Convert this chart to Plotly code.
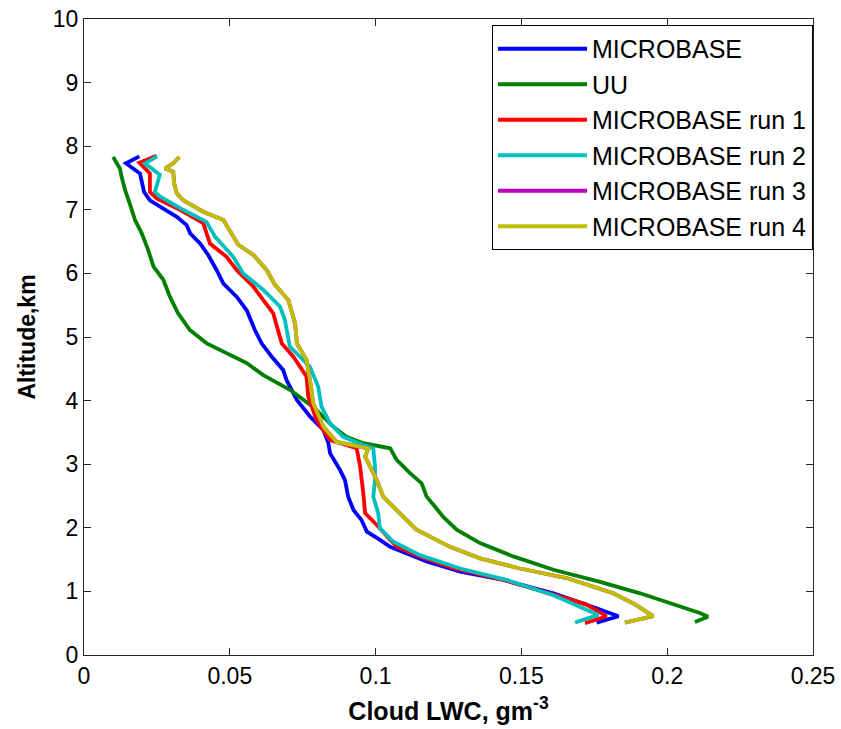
import plotly.graph_objects as go

# MICROBASE (blue)
mb_alt = [0.51, 0.61, 0.79, 0.97, 1.18, 1.31, 1.47, 1.60, 1.70, 1.81, 1.94, 2.12, 2.28, 2.49, 2.75, 2.91, 3.17, 3.33,
          3.54, 3.75, 4.01, 4.32, 4.48, 4.69, 4.90, 5.11, 5.42, 5.63, 5.84, 6.05, 6.29, 6.47, 6.63, 6.76, 6.89, 7.02,
          7.15, 7.28, 7.47, 7.57, 7.73, 7.84]
mb_lwc = [0.1758, 0.1833, 0.1724, 0.161, 0.1438, 0.129, 0.1175, 0.1107, 0.105, 0.1015, 0.097, 0.0952, 0.0924, 0.0906,
          0.0895, 0.0878, 0.0844, 0.0838, 0.0821, 0.0775, 0.073, 0.0695, 0.0683, 0.0644, 0.0609, 0.0586, 0.0558, 0.0524,
          0.0478, 0.0455, 0.0426, 0.0398, 0.0364, 0.0352, 0.0318, 0.0272, 0.0226, 0.0206, 0.0198, 0.0192, 0.0144, 0.019]

# UU (green)
uu_alt = [0.52, 0.60, 0.66, 0.97, 1.15, 1.34, 1.55, 1.76, 1.97, 2.17, 2.33, 2.49, 2.70, 2.86, 3.07, 3.25, 3.33, 3.43,
          3.59, 3.90, 4.17, 4.40, 4.59, 4.74, 4.90, 5.11, 5.37, 5.63, 5.90, 6.11, 6.37, 6.63, 6.84, 7.08, 7.31, 7.52,
          7.65, 7.83]
uu_lwc = [0.2095, 0.214, 0.2112, 0.1907, 0.177, 0.161, 0.1472, 0.1358, 0.1278, 0.1232, 0.1204, 0.1175, 0.1158, 0.1118,
          0.1072, 0.105, 0.0958, 0.090, 0.0855, 0.0786, 0.0706, 0.0615, 0.0558, 0.0489, 0.0421, 0.0363, 0.0323, 0.0295,
          0.0272, 0.0238, 0.022, 0.0198, 0.0175, 0.0158, 0.0141, 0.0129, 0.0123, 0.010]

# MICROBASE run 1 (red)
r1_alt = [0.50, 0.61, 0.80, 0.92, 1.18, 1.36, 1.57, 1.70, 1.81, 2.02, 2.23, 2.54, 2.75, 2.96, 3.25, 3.38, 3.69, 4.06,
          4.38, 4.69, 4.90, 5.11, 5.37, 5.58, 5.79, 6.05, 6.26, 6.47, 6.79, 7.00, 7.18, 7.28, 7.57, 7.74, 7.85]
r1_lwc = [0.1718, 0.1792, 0.172, 0.1632, 0.144, 0.127, 0.114, 0.1075, 0.105, 0.1009, 0.0964, 0.0958, 0.0952, 0.0947,
          0.0935, 0.0844, 0.0798, 0.0769, 0.0763, 0.0718, 0.0678, 0.0666, 0.0649, 0.0615, 0.0581, 0.0524, 0.0489,
          0.0432, 0.0409, 0.0329, 0.0249, 0.0226, 0.0226, 0.019, 0.0249]

# MICROBASE run 2 (cyan)
r2_alt = [0.51, 0.63, 0.94, 1.18, 1.36, 1.57, 1.78, 1.99, 2.23, 2.49, 2.75, 2.96, 3.25, 3.30, 3.43, 3.64, 3.90, 4.22,
          4.53, 4.85, 5.11, 5.27, 5.48, 5.74, 6.00, 6.26, 6.58, 6.81, 7.00, 7.21, 7.28, 7.55, 7.73, 7.84]
r2_lwc = [0.1684, 0.1764, 0.161, 0.1449, 0.129, 0.1152, 0.1061, 0.1015, 0.1009, 0.0992, 0.0998, 0.0998, 0.0992, 0.0958,
          0.0889, 0.0844, 0.0815, 0.0803, 0.0775, 0.0706, 0.0695, 0.0689, 0.0672, 0.0615, 0.0546, 0.0512, 0.0449,
          0.042, 0.034, 0.026, 0.0243, 0.026, 0.0209, 0.0251]

# MICROBASE run 3 (magenta) - coincides with run 4, hidden beneath it
r3_alt = [0.51, 0.61, 0.81, 0.97, 1.21, 1.36, 1.52, 1.70, 1.97, 2.23, 2.49, 2.75, 2.86, 3.12, 3.25, 3.35, 3.59, 3.96,
          4.32, 4.64, 4.90, 5.21, 5.58, 5.82, 6.05, 6.29, 6.45, 6.68, 6.84, 6.97, 7.15, 7.26, 7.42, 7.60, 7.65, 7.73,
          7.83]
r3_lwc = [0.1855, 0.1952, 0.1884, 0.1815, 0.1655, 0.1495, 0.1358, 0.1255, 0.114, 0.1084, 0.1026, 0.1004, 0.0992,
          0.0964, 0.0975, 0.0866, 0.0821, 0.0786, 0.0775, 0.0763, 0.073, 0.0724, 0.0701, 0.0655, 0.0627, 0.0581,
          0.0529, 0.05, 0.0478, 0.0409, 0.034, 0.0318, 0.0309, 0.0306, 0.0278, 0.0306, 0.0327]

# MICROBASE run 4 (olive yellow)
r4_alt = [0.51, 0.61, 0.81, 0.97, 1.21, 1.36, 1.52, 1.70, 1.97, 2.23, 2.49, 2.75, 2.86, 3.12, 3.25, 3.35, 3.59, 3.96,
          4.32, 4.64, 4.90, 5.21, 5.58, 5.82, 6.05, 6.29, 6.45, 6.68, 6.84, 6.97, 7.15, 7.26, 7.42, 7.60, 7.65, 7.73,
          7.83]
r4_lwc = [0.1855, 0.1952, 0.1884, 0.1815, 0.1655, 0.1495, 0.1358, 0.1255, 0.114, 0.1084, 0.1026, 0.1004, 0.0992,
          0.0964, 0.0975, 0.0866, 0.0821, 0.0786, 0.0775, 0.0763, 0.073, 0.0724, 0.0701, 0.0655, 0.0627, 0.0581,
          0.0529, 0.05, 0.0478, 0.0409, 0.034, 0.0318, 0.0309, 0.0306, 0.0278, 0.0306, 0.0327]

names = ["MICROBASE", "UU", "MICROBASE run 1", "MICROBASE run 2", "MICROBASE run 3", "MICROBASE run 4"]
colors = ["#0000FF", "#008000", "#FF0000", "#00BFBF", "#BF00BF", "#BFBF00"]
series = [(mb_lwc, mb_alt), (uu_lwc, uu_alt), (r1_lwc, r1_alt), (r2_lwc, r2_alt), (r3_lwc, r3_alt), (r4_lwc, r4_alt)]

fig = go.Figure()
for i, ((xs, ys), name, col) in enumerate(zip(series, names, colors)):
    fig.add_trace(go.Scatter(x=xs, y=ys, mode="lines", name=name, legendgroup=str(i),
                             line=dict(color=col, width=3.8)))

axis_common = dict(showline=True, linecolor="#262626", linewidth=1, mirror="ticks", ticks="inside",
                   ticklen=7, tickcolor="#262626", showgrid=False, zeroline=False, automargin=False,
                   tickfont=dict(family="Liberation Sans, Arial", size=23, color="black"))

fig.update_layout(
    width=841, height=729,
    margin=dict(l=84, r=28, t=19, b=74),
    plot_bgcolor="white", paper_bgcolor="white",
    xaxis=dict(range=[0, 0.25], tickvals=[0, 0.05, 0.1, 0.15, 0.2, 0.25],
               ticktext=["0", "0.05", "0.1", "0.15", "0.2", "0.25"],
               title=dict(text="Cloud LWC, gm<sup>-3</sup>", standoff=14,
                          font=dict(family="Liberation Sans, Arial", size=25, color="black", weight="bold")),
               **axis_common),
    yaxis=dict(range=[0, 10], dtick=1,
               title=dict(text="Altitude,km", standoff=10,
                          font=dict(family="Liberation Sans, Arial", size=23, color="black", weight="bold")),
               **axis_common),
    legend=dict(x=1, y=0.9906, xanchor="right", yanchor="top", bgcolor="white",
                bordercolor="black", borderwidth=1, tracegroupgap=0, itemwidth=89,
                font=dict(family="Liberation Sans, Arial", size=25, color="black")),
    showlegend=True,
)

fig.write_html("out.html")
